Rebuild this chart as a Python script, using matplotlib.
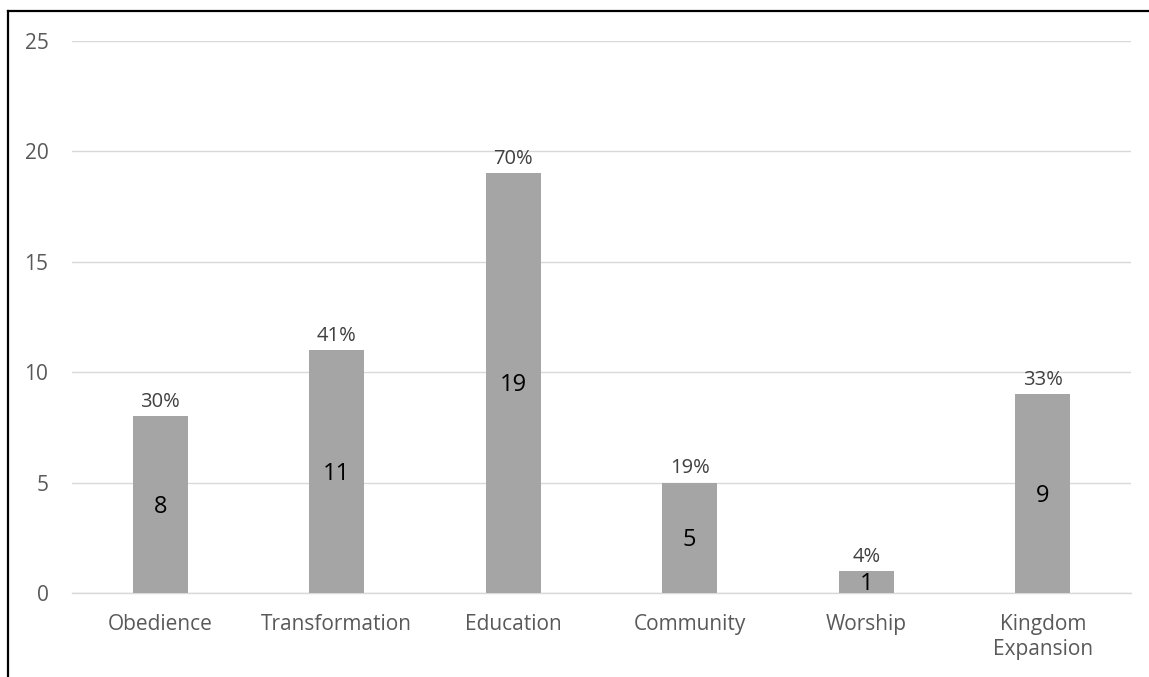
import numpy as np
import matplotlib.pyplot as plt
from matplotlib.lines import Line2D

categories = ['Obedience', 'Transformation', 'Education', 'Community', 'Worship', 'Kingdom\nExpansion']
counts = [8, 11, 19, 5, 1, 9]
percents = ['30%', '41%', '70%', '19%', '4%', '33%']

plt.rcParams['font.family'] = ['Open Sans', 'DejaVu Sans']

fig = plt.figure(figsize=(11.49, 6.77), dpi=100)
ax = fig.add_axes([72/1149, 1 - 593/677, (1131 - 72)/1149, (593 - 41)/677])

x = np.arange(len(categories))
bars = ax.bar(x, counts, width=0.31, color='#A5A5A5', zorder=3)

for xi, c, p in zip(x, counts, percents):
    ax.text(xi, c / 2 - 0.1, str(c), ha='center', va='center', fontsize=17, color='black', zorder=4)
    ax.text(xi, c + 0.2, p, ha='center', va='bottom', fontsize=14.5, color='#404040', zorder=4)

ax.set_xlim(-0.5, len(categories) - 0.5)
ax.set_ylim(0, 25)
ax.set_yticks([0, 5, 10, 15, 20, 25])
ax.set_xticks(x)
ax.set_xticklabels(categories, linespacing=1.25)
ax.yaxis.grid(True, color='#D9D9D9', linewidth=1, zorder=0)
for s in ['top', 'right', 'left']:
    ax.spines[s].set_visible(False)
ax.spines['bottom'].set_color('#D9D9D9')
ax.spines['bottom'].set_linewidth(1)
ax.tick_params(axis='both', length=0, labelsize=15, labelcolor='#595959')
ax.tick_params(axis='y', pad=17)
ax.tick_params(axis='x', pad=15)

# border of the surrounding table cell
fig.add_artist(Line2D([8/1149, 1], [1 - 10.5/677, 1 - 10.5/677], color='black', linewidth=1.6, transform=fig.transFigure))
fig.add_artist(Line2D([8/1149, 8/1149], [0, 1 - 10.5/677], color='black', linewidth=1.6, transform=fig.transFigure))

fig.savefig('out.png', dpi=100)
